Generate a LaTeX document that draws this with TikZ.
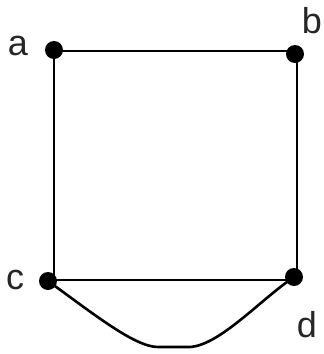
\documentclass[tikz,border=0pt]{standalone}
\usepackage{fontspec}
\setmainfont{Liberation Sans}
\begin{document}
\begin{tikzpicture}[x=1pt,y=-1pt,
  vert/.style={circle,fill=black,inner sep=0pt,minimum size=18pt},
  lab/.style={font=\fontsize{36}{36}\selectfont,text=black!85,inner sep=0pt},
  edge/.style={line width=2.6pt,black}]
\useasboundingbox (0,0) rectangle (324,354);
\node[vert] (a) at (54,50) {};
\node[vert] (b) at (295,54) {};
\node[vert] (c) at (48,281) {};
\node[vert] (d) at (294,277) {};
\node[lab] (la) at (18,46) {a};
\node[lab] (lb) at (312,21) {b};
\node[lab] (lc) at (15,280) {c};
\node[lab] (ld) at (307,325) {d};
\coordinate (ab) at (54,51);
\coordinate (bb) at (297,51);
\coordinate (cb) at (52,280);
\coordinate (db) at (297,280);
\draw[edge] (ab -| a.center) -- (bb -| b.center);
\draw[edge] (a.center |- ab) -- (a.center |- c.center);
\draw[edge] (bb) -- (db);
\draw[edge] (cb) -- (db);
\draw[edge] (c.center) .. controls (95,315) and (135,347) .. (158,347) -- (190,347) .. controls (220,345) and (260,300) .. (d.center);
\end{tikzpicture}
\end{document}
